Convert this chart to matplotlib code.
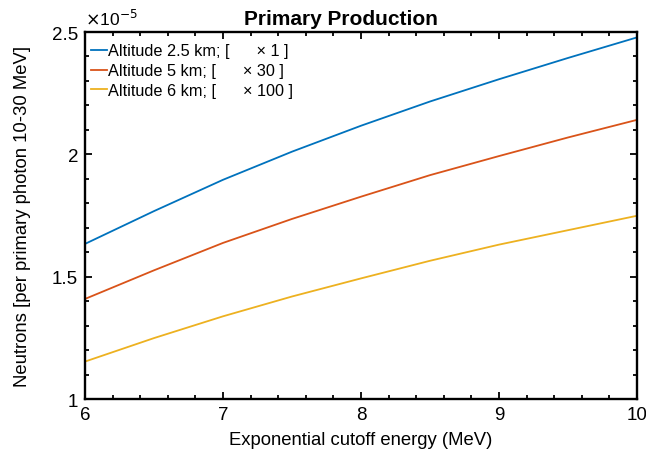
import matplotlib
matplotlib.use("Agg")
import matplotlib.pyplot as plt
from matplotlib.ticker import MultipleLocator, FormatStrFormatter

plt.rcParams['font.family'] = ['Liberation Sans', 'DejaVu Sans']

# exponential cutoff energy (MeV)
energy = [6.0, 6.5, 7.0, 7.5, 8.0, 8.5, 9.0, 9.5, 10.0]
# neutrons per primary photon, in units of 1e-5 (already multiplied by the legend factor)
alt_25 = [1.634, 1.768, 1.896, 2.011, 2.117, 2.216, 2.307, 2.394, 2.478]
alt_5 = [1.409, 1.526, 1.638, 1.736, 1.827, 1.915, 1.993, 2.069, 2.141]
alt_6 = [1.153, 1.249, 1.338, 1.419, 1.493, 1.565, 1.631, 1.690, 1.749]
labels = ['Altitude 2.5 km; [      \u00d7 1 ]',
          'Altitude 5 km; [      \u00d7 30 ]',
          'Altitude 6 km; [      \u00d7 100 ]']
colors = ['#0072BD', '#D95319', '#EDB120']

fig = plt.figure(figsize=(6.46, 4.56), dpi=100)
ax = fig.add_axes([0.1316, 0.1228, 0.8545, 0.8048])

for y, lab, c in zip([alt_25, alt_5, alt_6], labels, colors):
    ax.plot(energy, y, color=c, lw=1.3, label=lab)

ax.set_xlim(6, 10)
ax.set_ylim(1, 2.5)
ax.xaxis.set_major_locator(MultipleLocator(1))
ax.xaxis.set_minor_locator(MultipleLocator(0.2))
ax.yaxis.set_major_locator(MultipleLocator(0.5))
ax.yaxis.set_minor_locator(MultipleLocator(0.1))
ax.yaxis.set_major_formatter(FormatStrFormatter('%g'))
ax.xaxis.set_major_formatter(FormatStrFormatter('%g'))

ax.tick_params(which='both', direction='in', top=True, right=True,
               labelsize=13.5, width=1.3, pad=5)
ax.tick_params(which='major', length=5)
ax.tick_params(which='minor', length=3)
for s in ax.spines.values():
    s.set_linewidth(1.7)

ax.set_xlabel('Exponential cutoff energy (MeV)', fontsize=13.3, labelpad=6)
ax.set_ylabel('Neutrons [per primary photon 10-30 MeV]', fontsize=13.3, labelpad=15)
ax.text(0.464, 1.022, 'Primary Production', transform=ax.transAxes,
        fontsize=15, fontweight='bold', ha='center', va='baseline')

# exponent of the y axis
ax.text(0.0, 1.012, r'$\times$10$^{-5}$', transform=ax.transAxes,
        fontsize=12.5, ha='left', va='bottom')

ax.legend(loc='upper left', bbox_to_anchor=(-0.009, 1.0), frameon=False,
          fontsize=11.7, handlelength=0.95, handletextpad=0.1,
          labelspacing=0.3, borderaxespad=0.2, borderpad=0.5)

fig.savefig('out.png', dpi=100)
